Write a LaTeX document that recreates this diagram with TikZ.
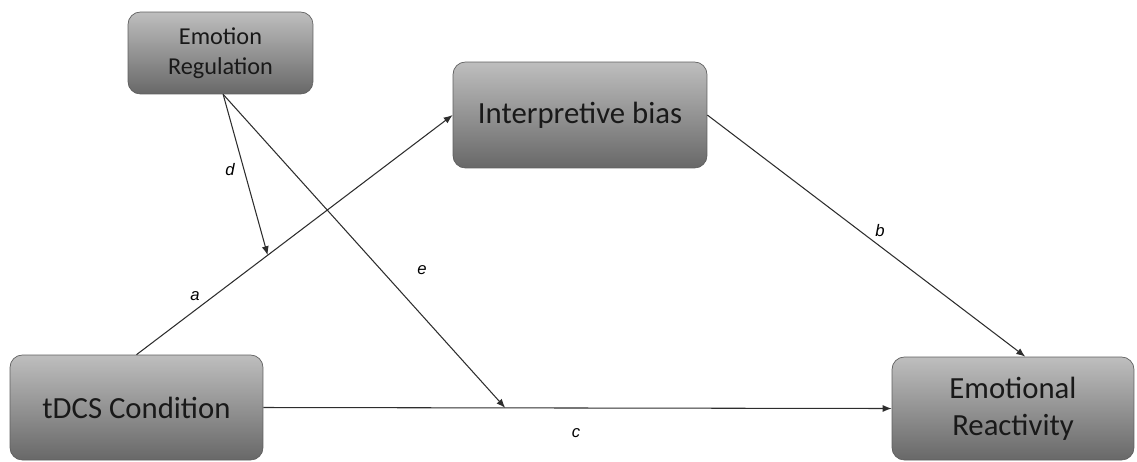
\documentclass[tikz,border=0pt]{standalone}
\usepackage{fontspec}
\setmainfont{Carlito}
\newfontfamily\labelfont{Liberation Sans}
\usetikzlibrary{arrows.meta,positioning}
\definecolor{BoxTop}{RGB}{190,190,190}
\definecolor{BoxBottom}{RGB}{104,104,104}
\definecolor{EdgeGray}{RGB}{95,95,95}
\definecolor{LineGray}{RGB}{45,45,45}

\begin{document}
\begin{tikzpicture}[x=0.02cm, y=-0.02cm,
    var/.style={draw=EdgeGray, line width=0.4pt, top color=BoxTop, bottom color=BoxBottom, rounded corners=7pt, align=center, inner sep=0pt, text=black!90, font=\fontsize{17.5}{21}\selectfont},
    small/.style={var, font=\fontsize{13.8}{17}\selectfont},
    path/.style={-{Latex[length=1.8mm,width=1.4mm]}, line width=0.6pt, draw=LineGray},
    coef/.style={font=\labelfont\itshape\fontsize{9.5}{11}\selectfont, inner sep=0pt}
  ]
    \useasboundingbox (0,0) rectangle (1137,461);
    \node[small, minimum width=3.7cm, minimum height=1.64cm] (emoreg) at (220.5,53) {Emotion\\Regulation};
    \node[var, minimum width=5.08cm, minimum height=2.12cm] (interp) at (580,115) {Interpretive bias};
    \node[var, minimum width=5.06cm, minimum height=2.1cm] (tdcs) at (136.5,407.5) {tDCS Condition};
    \node[var, minimum width=4.84cm, minimum height=2.06cm] (react) at (1013,408.5) {Emotional\\Reactivity};

    \draw[path] (tdcs.north) -- coordinate[pos=0.415] (dtip) (interp.west);
    \draw[path] (interp.east) -- ([xshift=7]react.north);
    \draw[path] (tdcs.east) -- coordinate[pos=0.385] (etip) (react.west);
    \draw[path] ([xshift=1.5]emoreg.south) -- (dtip);
    \draw[path] ([xshift=1.5]emoreg.south) -- (etip);

    \node[coef] (la) at (195,296) {a};
    \node[coef] (lb) at (880,231) {b};
    \node[coef] (lc) at (576,433) {c};
    \node[coef] (ld) at (230,170) {d};
    \node[coef] (le) at (422,270) {e};
\end{tikzpicture}
\end{document}
